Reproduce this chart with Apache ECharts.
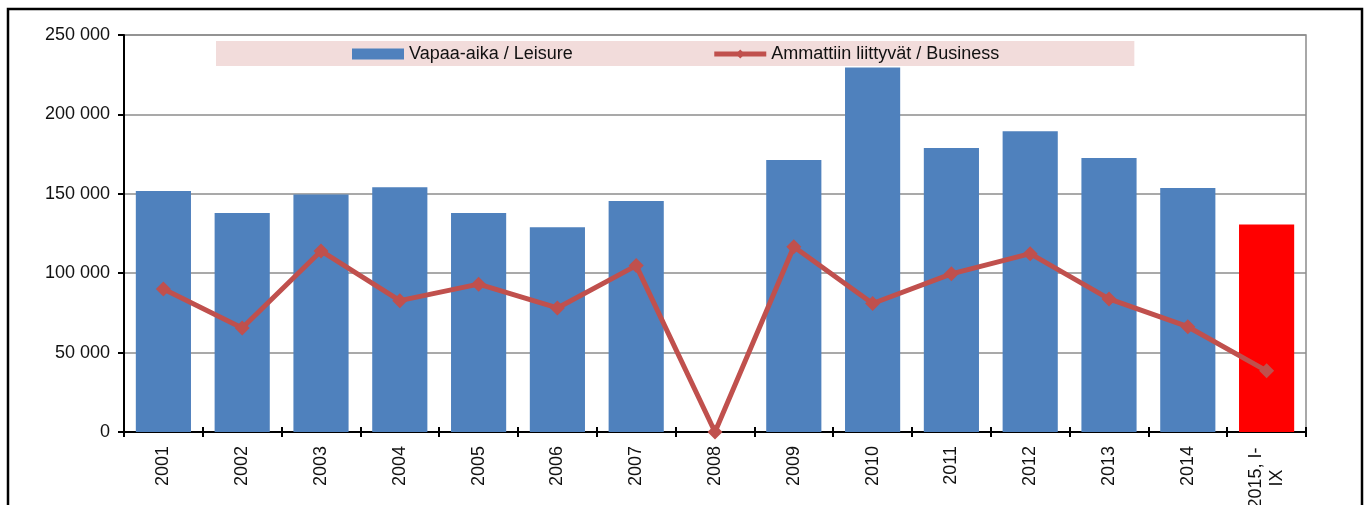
<!DOCTYPE html>
<html>
<head>
<meta charset="utf-8">
<script src="https://cdn.jsdelivr.net/npm/echarts@6/dist/echarts.min.js"></script>
<style>
html,body{margin:0;padding:0;background:#fff;}
#chart{width:1367px;height:505px;}
</style>
</head>
<body>
<div id="chart"></div>
<script>
const categories = ['2001','2002','2003','2004','2005','2006','2007','2008','2009','2010','2011','2012','2013','2014','2015, I-\nIX'];
const leisure = [151700, 137900, 149600, 154200, 137900, 129000, 145400, null, 171300, 229500, 178900, 189400, 172600, 153600, 130600];
const business = [90000, 65500, 114000, 82700, 93100, 78100, 104800, 0, 116600, 80900, 99600, 112300, 83800, 66300, 38500];
const seriesNames = ['Vapaa-aika / Leisure', 'Ammattiin liittyvät / Business'];
const yTicks = [0, 50000, 100000, 150000, 200000, 250000];

const FONT = 'Liberation Sans, Arial, sans-serif';
const chart = echarts.init(document.getElementById('chart'), null, {renderer: 'canvas'});

const leisureData = leisure.map((v, i) => i === leisure.length - 1
  ? {value: v, itemStyle: {color: '#ff0000'}} : v);

function fmtY(v) { return String(v).replace(/\B(?=(\d{3})+(?!\d))/g, ' '); }

chart.setOption({
  animation: false,
  backgroundColor: '#ffffff',
  textStyle: {fontFamily: FONT},
  graphic: [{
    type: 'rect', silent: true, z: 100,
    shape: {x: 8, y: 9, width: 1354, height: 540},
    style: {fill: 'none', stroke: '#000', lineWidth: 2.5}
  }],
  legend: {
    left: 216, top: 41,
    padding: [4, 135, 3, 136],
    backgroundColor: '#f2dcdb',
    itemGap: 139,
    itemWidth: 52, itemHeight: 11,
    textStyle: {fontSize: 18, color: '#111', fontFamily: FONT},
    data: [
      {name: seriesNames[0], icon: 'rect'},
      {name: seriesNames[1], lineStyle: {width: 5, color: '#c0504d'}}
    ]
  },
  grid: {
    left: 124, right: 61, top: 35, bottom: 73,
    outerBoundsMode: 'none',
    containLabel: false,
    show: true, borderColor: '#8c8c8c', borderWidth: 1.5
  },
  xAxis: [{
    type: 'category',
    data: categories,
    position: 'bottom',
    axisLine: {lineStyle: {color: '#000', width: 2}},
    axisTick: {show: true, length: 5, inside: false, interval: 0, lineStyle: {color: '#000', width: 2}},
    axisLabel: {
      rotate: 90, interval: 0, margin: 14,
      fontSize: 18, color: '#111', fontFamily: FONT,
      formatter: v => v.indexOf('\n') >= 0 ? v.split('\n').map(s => '{c|' + s + '}').join('\n') : v,
      rich: {c: {width: 64, align: 'center', fontSize: 18, lineHeight: 21, color: '#111', fontFamily: FONT}}
    },
    splitLine: {show: false}
  }, {
    type: 'category',
    data: categories,
    position: 'bottom',
    offset: 0,
    axisLine: {show: false},
    axisTick: {show: true, length: 5, inside: true, interval: 0, lineStyle: {color: '#000', width: 2}},
    axisLabel: {show: false},
    splitLine: {show: false}
  }],
  yAxis: {
    type: 'value',
    min: yTicks[0], max: yTicks[yTicks.length - 1], interval: yTicks[1] - yTicks[0],
    axisLine: {show: true, lineStyle: {color: '#000', width: 2}},
    axisTick: {show: true, length: 6, lineStyle: {color: '#000', width: 2}},
    axisLabel: {fontSize: 18, color: '#111', margin: 14, fontFamily: FONT, formatter: fmtY},
    splitLine: {show: true, lineStyle: {color: '#8c8c8c', width: 1.5}}
  },
  series: [{
    name: seriesNames[0],
    type: 'bar',
    data: leisureData,
    barCategoryGap: '30%',
    itemStyle: {color: '#4f81bd'},
    z: 2
  }, {
    name: seriesNames[1],
    type: 'line',
    data: business,
    clip: false,
    symbol: 'diamond',
    symbolSize: 15,
    lineStyle: {color: '#c0504d', width: 5},
    itemStyle: {color: '#c0504d'},
    z: 5
  }]
});
</script>
</body>
</html>
